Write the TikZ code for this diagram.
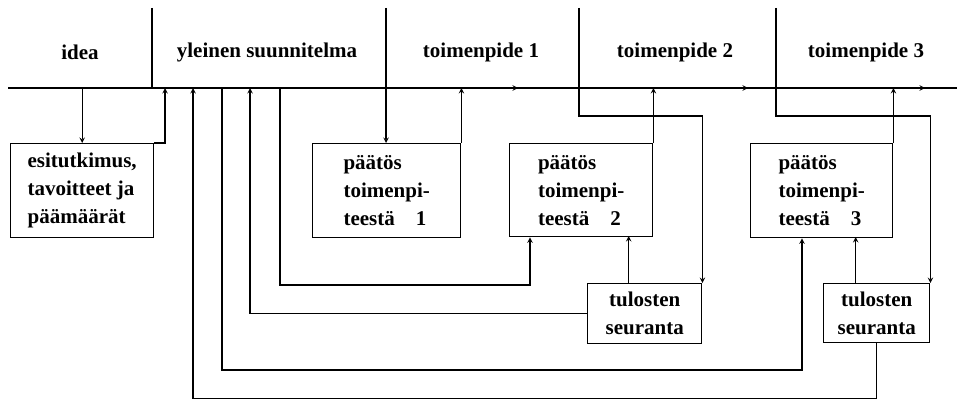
\documentclass[tikz,border=0pt]{standalone}
\usepackage{fontspec}
\setmainfont{Liberation Serif}
\usepackage{tikz}
\usetikzlibrary{positioning,shapes,arrows}

\begin{document}
\begin{tikzpicture}[x=1pt, y=1pt, >=stealth, line width=1.4pt,
    font=\fontsize{21}{28}\selectfont\bfseries]
\tikzset{
  stage/.style={draw, rectangle, anchor=north west, align=left, inner sep=0pt},
  result/.style={draw, rectangle, anchor=north west, align=center, inner sep=0pt},
}
\useasboundingbox (0,0) rectangle (958,399);

            % phases along the time line
            \node (lidea) at (80,347) {idea};
            \node (lplan) at (267,347) {yleinen suunnitelma};
            \node (lt1) at (481,347) {toimenpide 1};
            \node (lt2) at (675,347) {toimenpide 2};
            \node (lt3) at (866,347) {toimenpide 3};

            \coordinate (main) at (8,311);
            \coordinate (end) at (957,311);
            \coordinate (d1) at (152,391);
            \coordinate (d2) at (386,391);
            \coordinate (d3) at (579,391);
            \coordinate (d4) at (776,391);
            \coordinate (m1) at (165,311);
            \coordinate (m2) at (193,311);
            \coordinate (m3) at (222,311);
            \coordinate (m4) at (250,311);
            \coordinate (m5) at (280,311);

            % boxes
            \node[stage, minimum width=143pt, minimum height=94pt] (esi) at (10,256) {esitutkimus,\\tavoitteet ja\\päämäärät};
            \node[stage, minimum width=148pt, minimum height=94pt] (p1) at (312,256) {päätös\\toimenpi-\\teestä\quad 1};
            \node[stage, minimum width=143pt, minimum height=93pt] (p2) at (509,256) {päätös\\toimenpi-\\teestä\quad 2};
            \node[stage, minimum width=142pt, minimum height=94pt] (p3) at (750,256) {päätös\\toimenpi-\\teestä\quad 3};
            \node[result, minimum width=114pt, minimum height=60pt] (t2) at (587,116) {tulosten\\seuranta};
            \node[result, minimum width=106pt, minimum height=59pt] (t3) at (823,116) {tulosten\\seuranta};

            % time line
            \draw (main) -- (end);
            \foreach \x in {518,748,925}
                \draw[->] (\x-12,311) -- (\x,311);
            \draw (d1) -- (d1 |- main);

            \draw[->] (esi.north |- main) -- (esi.north);
            \draw[->] (esi.north east) -| (m1);
            \draw[->] (d2) -- (d2 |- p1.north);
            \draw[->] (p1.north east) -- (p1.north east |- main);
            \draw[->] (d3) -- ++(0,-108) -| (t2.north east);
            \draw[->] (p2.north east) -- (p2.north east |- main);
            \draw[->] (d4) -- ++(0,-108) -| (t3.north east);
            \draw[->] (p3.north east) -- (p3.north east |- main);

            \draw[->] (m5) -- ++(0,-197) -| ([xshift=21pt]p2.south west);
            \draw[->] (t2.west) -| (m4);
            \draw[->] (m3) -- ++(0,-282) -| ([xshift=52pt]p3.south west);
            \draw[->] (t3.south) -- ++(0,-55) -| (m2);
            \draw[->] ([xshift=-16pt]t2.north) -- ++(0,47);
            \draw[->] ([xshift=-21pt]t3.north) -- ++(0,46);
        \end{tikzpicture}
\end{document}
